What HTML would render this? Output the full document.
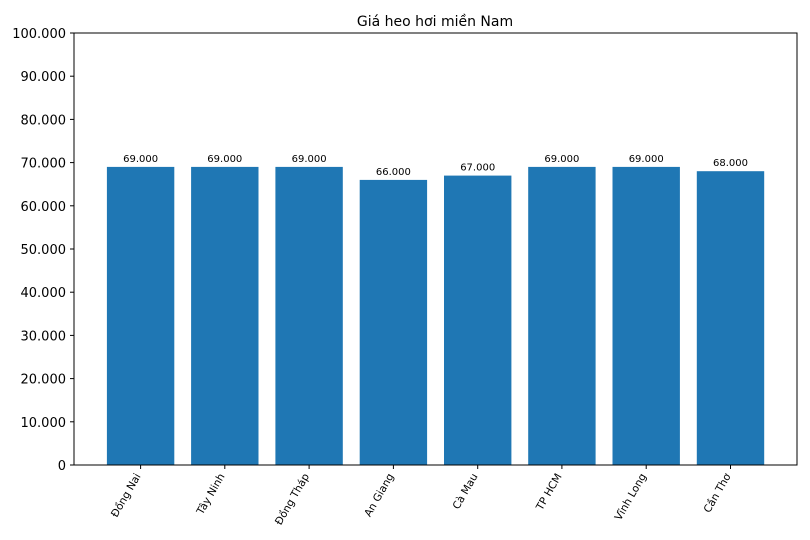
<!DOCTYPE html>
<html><head><meta charset="utf-8"><style>body{margin:0;background:#fff}svg{display:block;font-family:"DejaVu Sans","Liberation Sans",sans-serif}</style></head>
<body>
<svg width="810" height="540" viewBox="0 0 810 540" xmlns="http://www.w3.org/2000/svg">
<rect width="810" height="540" fill="#fff"/>
<text x="435" y="26" font-size="14" text-anchor="middle">Giá heo hơi miền Nam</text>
<g fill="#1f77b4">
<rect x="106.9" y="166.9" width="67.4" height="298.1"/>
<rect x="191.1" y="166.9" width="67.4" height="298.1"/>
<rect x="275.4" y="166.9" width="67.4" height="298.1"/>
<rect x="359.7" y="179.9" width="67.4" height="285.1"/>
<rect x="444.0" y="175.6" width="67.4" height="289.4"/>
<rect x="528.2" y="166.9" width="67.4" height="298.1"/>
<rect x="612.5" y="166.9" width="67.4" height="298.1"/>
<rect x="696.8" y="171.2" width="67.4" height="293.8"/>
</g>
<g font-size="10" text-anchor="middle">
<text x="140.6" y="162">69.000</text>
<text x="224.8" y="162">69.000</text>
<text x="309.1" y="162">69.000</text>
<text x="393.4" y="175">66.000</text>
<text x="477.7" y="170.5">67.000</text>
<text x="561.9" y="162">69.000</text>
<text x="646.2" y="162">69.000</text>
<text x="730.5" y="166">68.000</text>
</g>
<rect x="74" y="33" width="723" height="432" fill="none" stroke="#000" stroke-width="1"/>
<g stroke="#000" stroke-width="1">
<line x1="70" y1="465" x2="74" y2="465"/><line x1="70" y1="421.8" x2="74" y2="421.8"/><line x1="70" y1="378.6" x2="74" y2="378.6"/><line x1="70" y1="335.4" x2="74" y2="335.4"/><line x1="70" y1="292.2" x2="74" y2="292.2"/><line x1="70" y1="249" x2="74" y2="249"/><line x1="70" y1="205.8" x2="74" y2="205.8"/><line x1="70" y1="162.6" x2="74" y2="162.6"/><line x1="70" y1="119.4" x2="74" y2="119.4"/><line x1="70" y1="76.2" x2="74" y2="76.2"/><line x1="70" y1="33" x2="74" y2="33"/>
<line x1="140.6" y1="465" x2="140.6" y2="469"/><line x1="224.8" y1="465" x2="224.8" y2="469"/><line x1="309.1" y1="465" x2="309.1" y2="469"/><line x1="393.4" y1="465" x2="393.4" y2="469"/><line x1="477.7" y1="465" x2="477.7" y2="469"/><line x1="561.9" y1="465" x2="561.9" y2="469"/><line x1="646.2" y1="465" x2="646.2" y2="469"/><line x1="730.5" y1="465" x2="730.5" y2="469"/>
</g>
<g font-size="13" text-anchor="end">
<text x="66" y="470">0</text><text x="66" y="426.8">10.000</text><text x="66" y="383.6">20.000</text><text x="66" y="340.4">30.000</text><text x="66" y="297.2">40.000</text><text x="66" y="254">50.000</text><text x="66" y="210.8">60.000</text><text x="66" y="167.6">70.000</text><text x="66" y="124.4">80.000</text><text x="66" y="81.2">90.000</text><text x="66" y="38">100.000</text>
</g>
<g font-size="10.5" text-anchor="end">
<text transform="translate(141,476) rotate(-60)">Đồng Nai</text>
<text transform="translate(225,476) rotate(-60)">Tây Ninh</text>
<text transform="translate(309.5,476) rotate(-60)">Đồng Tháp</text>
<text transform="translate(394,476) rotate(-60)">An Giang</text>
<text transform="translate(478,476) rotate(-60)">Cà Mau</text>
<text transform="translate(562,476) rotate(-60)">TP HCM</text>
<text transform="translate(646.5,476) rotate(-60)">Vĩnh Long</text>
<text transform="translate(731,476) rotate(-60)">Cần Thơ</text>
</g>
</svg>
</body></html>
